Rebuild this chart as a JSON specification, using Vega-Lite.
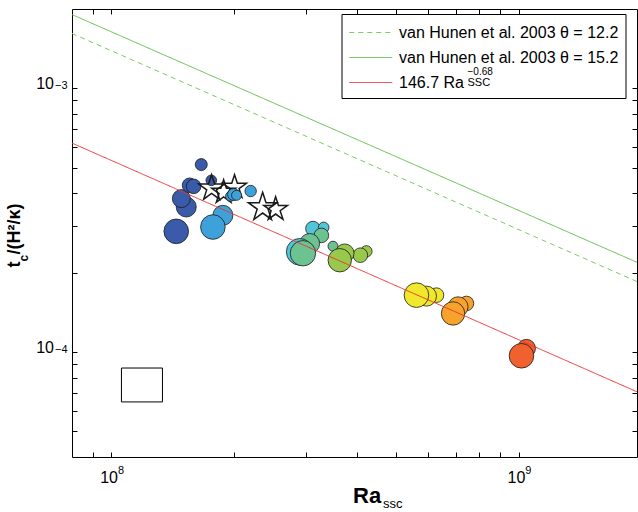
{
  "$schema": "https://vega.github.io/schema/vega-lite/v6.json",
  "width": 565,
  "height": 448,
  "autosize": {"type": "none"},
  "padding": {"left": 72, "top": 9, "right": 1, "bottom": 55},
  "background": "white",
  "config": {
    "font": "Liberation Sans",
    "view": {"stroke": null},
    "axis": {"grid": false, "domainColor": "#000", "tickColor": "#000", "labelColor": "#000", "titleColor": "#000", "labelFont": "Liberation Sans", "titleFont": "Liberation Sans", "labelFontSize": 16, "labelOverlap": false, "labelFlush": false, "labelBound": false, "domainWidth": 1, "tickWidth": 1},
    "legend": {"strokeColor": null, "labelColor": "#000", "labelFont": "Liberation Sans"}
  },
  "datasets": {
    "pts": [
      {"grp": "db", "Ra": 144200000, "t": 0.000287, "d": 24.6},
      {"grp": "db", "Ra": 152600000, "t": 0.000355, "d": 20},
      {"grp": "db", "Ra": 148400000, "t": 0.000382, "d": 18},
      {"grp": "db", "Ra": 155500000, "t": 0.000429, "d": 14.6},
      {"grp": "db", "Ra": 159100000, "t": 0.000425, "d": 14.6},
      {"grp": "db", "Ra": 166100000, "t": 0.000514, "d": 12},
      {"grp": "db", "Ra": 175800000, "t": 0.000448, "d": 10.6},
      {"grp": "star", "Ra": 176100000, "t": 0.000418, "d": 27},
      {"grp": "star", "Ra": 188500000, "t": 0.000404, "d": 25},
      {"grp": "star", "Ra": 200500000, "t": 0.000422, "d": 25},
      {"grp": "star", "Ra": 235000000, "t": 0.000354, "d": 30},
      {"grp": "star", "Ra": 252900000, "t": 0.000348, "d": 25},
      {"grp": "lb", "Ra": 187700000, "t": 0.00033, "d": 20},
      {"grp": "lb", "Ra": 177400000, "t": 0.000298, "d": 24.6},
      {"grp": "lb", "Ra": 219600000, "t": 0.000408, "d": 11.4},
      {"grp": "lb", "Ra": 196000000, "t": 0.00039, "d": 10},
      {"grp": "lb", "Ra": 199400000, "t": 0.000396, "d": 12},
      {"grp": "lb", "Ra": 202800000, "t": 0.000393, "d": 10},
      {"grp": "cy", "Ra": 312300000, "t": 0.000294, "d": 14.6},
      {"grp": "cy", "Ra": 331800000, "t": 0.000297, "d": 10.6},
      {"grp": "tl", "Ra": 327500000, "t": 0.000277, "d": 14.6},
      {"grp": "tl", "Ra": 306500000, "t": 0.000258, "d": 20},
      {"grp": "cy", "Ra": 289700000, "t": 0.00024, "d": 26.6},
      {"grp": "tl", "Ra": 295100000, "t": 0.000237, "d": 25.4},
      {"grp": "tl", "Ra": 349800000, "t": 0.000252, "d": 10},
      {"grp": "gr", "Ra": 422400000, "t": 0.000241, "d": 11.4},
      {"grp": "gr", "Ra": 408300000, "t": 0.000233, "d": 14.6},
      {"grp": "gr", "Ra": 373800000, "t": 0.000237, "d": 18.6},
      {"grp": "gr", "Ra": 363400000, "t": 0.000223, "d": 23.4},
      {"grp": "ye", "Ra": 627800000, "t": 0.0001644, "d": 14.6},
      {"grp": "ye", "Ra": 593300000, "t": 0.000163, "d": 20},
      {"grp": "ye", "Ra": 560600000, "t": 0.0001644, "d": 24.6},
      {"grp": "or", "Ra": 743600000, "t": 0.0001529, "d": 14.6},
      {"grp": "or", "Ra": 709200000, "t": 0.0001485, "d": 20},
      {"grp": "or", "Ra": 689400000, "t": 0.0001401, "d": 23.4},
      {"grp": "ro", "Ra": 1044000000, "t": 0.0001033, "d": 18},
      {"grp": "ro", "Ra": 1015000000, "t": 0.0000968, "d": 24.6}
    ],
    "box": [
      {"x1": 105800000, "x2": 133400000, "y1": 0.0000647, "y2": 0.000087}
    ],
    "lines": [
      {"series": "van Hunen et al. 2003 θ = 12.2", "Ra": 80000000, "t": 0.001615, "sup": "", "sub": ""},
      {"series": "van Hunen et al. 2003 θ = 12.2", "Ra": 1950000000, "t": 0.0001851, "sup": "", "sub": ""},
      {"series": "van Hunen et al. 2003 θ = 15.2", "Ra": 80000000, "t": 0.001905, "sup": "", "sub": ""},
      {"series": "van Hunen et al. 2003 θ = 15.2", "Ra": 1950000000, "t": 0.000219, "sup": "", "sub": ""},
      {"series": "146.7 Ra", "Ra": 80000000, "t": 0.00062, "sup": "−0.68", "sub": "SSC"},
      {"series": "146.7 Ra", "Ra": 1950000000, "t": 0.0000707, "sup": "−0.68", "sub": "SSC"}
    ]
  },
  "layer": [
    {
      "data": {"name": "pts"},
      "mark": {"type": "point", "filled": true, "opacity": 1, "stroke": "#1a1a1a"},
      "encoding": {
        "x": {"field": "Ra", "type": "quantitative", "scale": {"type": "log", "domain": [80000000, 1950000000], "nice": false}, "axis": null},
        "y": {"field": "t", "type": "quantitative", "scale": {"type": "log", "domain": [0.00004, 0.002], "nice": false},
              "axis": {"orient": "left", "labels": false, "ticks": false, "domain": false, "title": "/(H²/κ)", "titleX": -52.5, "titleY": 245, "titleAlign": "left", "titleBaseline": "alphabetic", "titleAngle": 270, "titleFontSize": 18, "titleFontWeight": "bold"}},
        "fill": {"field": "grp", "type": "nominal", "scale": {"domain": ["db", "lb", "cy", "tl", "gr", "ye", "or", "ro", "star"], "range": ["#3a5ba9", "#3ea1da", "#52c5d8", "#6dc291", "#99c94c", "#efe82c", "#f7a22b", "#f0612f", "transparent"]}, "legend": null},
        "size": {"field": "d", "type": "quantitative", "scale": {"type": "pow", "exponent": 2, "domain": [0, 25], "range": [0, 625]}, "legend": null},
        "shape": {"condition": {"test": "datum.grp === 'star'", "value": "M0,-1L0.225,-0.309L0.951,-0.309L0.363,0.118L0.588,0.809L0,0.382L-0.588,0.809L-0.363,0.118L-0.951,-0.309L-0.225,-0.309Z"}, "value": "circle"},
        "strokeWidth": {"condition": {"test": "datum.grp === 'star'", "value": 1.5}, "value": 0.8}
      }
    },
    {
      "data": {"name": "box"},
      "mark": {"type": "rect", "fill": "transparent", "stroke": "#000", "strokeWidth": 1},
      "encoding": {
        "x": {"field": "x1", "type": "quantitative", "scale": {"type": "log", "domain": [80000000, 1950000000], "nice": false},
              "axis": {"orient": "bottom", "values": [100000000, 1000000000], "labelExpr": "datum.value < 500000000 ? '8' : '9'", "labelAlign": "left", "labelBaseline": "alphabetic", "labelOffset": 6, "labelPadding": 16, "labelFontSize": 11, "ticks": false, "domain": false, "title": "ssc", "titleX": 310.5, "titleY": 50, "titleAlign": "left", "titleBaseline": "alphabetic", "titleFontSize": 13, "titleFontWeight": "normal"}},
        "x2": {"field": "x2"},
        "y": {"field": "y1", "type": "quantitative", "scale": {"type": "log", "domain": [0.00004, 0.002], "nice": false},
              "axis": {"orient": "left", "values": [0.0001, 0.001], "labelExpr": "datum.value < 0.0005 ? '−4' : '−3'", "labelAlign": "left", "labelBaseline": "alphabetic", "labelPadding": 17.5, "labelDy": -1, "labelFontSize": 11, "ticks": false, "domain": false, "title": "c", "titleX": -44.5, "titleY": 252, "titleAlign": "left", "titleBaseline": "alphabetic", "titleAngle": 270, "titleFontSize": 12, "titleFontWeight": "bold"}},
        "y2": {"field": "y2"}
      }
    },
    {
      "data": {"name": "lines"},
      "transform": [{"filter": "datum.series !== '146.7 Ra'"}],
      "mark": {"type": "line", "strokeWidth": 1, "clip": true},
      "encoding": {
        "x": {"field": "Ra", "type": "quantitative", "scale": {"type": "log", "domain": [80000000, 1950000000], "nice": false},
              "axis": {"orient": "bottom", "values": [90000000, 100000000, 200000000, 300000000, 400000000, 500000000, 600000000, 700000000, 800000000, 900000000, 1000000000], "labelExpr": "(datum.value == 100000000 || datum.value == 1000000000) ? '10' : ''", "labelAlign": "right", "labelBaseline": "alphabetic", "labelOffset": 6, "labelPadding": 30, "tickSize": -5, "title": "Ra", "titleX": 280.5, "titleY": 45, "titleAlign": "left", "titleBaseline": "alphabetic", "titleFontSize": 22, "titleFontWeight": "bold"}},
        "y": {"field": "t", "type": "quantitative", "scale": {"type": "log", "domain": [0.00004, 0.002], "nice": false},
              "axis": {"orient": "left", "values": [0.00005, 0.00006, 0.00007, 0.00008, 0.00009, 0.0001, 0.0002, 0.0003, 0.0004, 0.0005, 0.0006, 0.0007, 0.0008, 0.0009, 0.001], "labelExpr": "(datum.value == 0.001 || datum.value == 0.0001) ? '10' : ''", "labelAlign": "right", "labelBaseline": "alphabetic", "labelDy": 6, "labelPadding": 23.5, "tickSize": -5, "title": "t", "titleX": -52.5, "titleY": 258, "titleAlign": "left", "titleBaseline": "alphabetic", "titleAngle": 270, "titleFontSize": 18, "titleFontWeight": "bold"}},
        "color": {"field": "series", "type": "nominal", "scale": {"domain": ["van Hunen et al. 2003 θ = 12.2", "van Hunen et al. 2003 θ = 15.2", "146.7 Ra"], "range": ["#7ccc66", "#62bd4a", "#ee3333"]},
                  "legend": {"orient": "none", "legendX": 269.5, "legendY": 5, "title": null, "padding": 7, "strokeColor": "#000", "fillColor": "#fff", "symbolType": "M-1,0L3,0", "symbolSize": 462, "symbolStrokeWidth": 1, "labelOffset": 27.5, "labelFontSize": 16, "rowPadding": 5, "labelLimit": 400}},
        "strokeDash": {"field": "series", "type": "nominal", "scale": {"domain": ["van Hunen et al. 2003 θ = 12.2", "van Hunen et al. 2003 θ = 15.2", "146.7 Ra"], "range": [[5, 4], [1, 0], [1, 0]]},
                  "legend": {"orient": "none", "legendX": 269.5, "legendY": 5, "title": null, "padding": 7, "strokeColor": "#000", "fillColor": "#fff", "symbolType": "M-1,0L3,0", "symbolSize": 462, "symbolStrokeWidth": 1, "labelOffset": 27.5, "labelFontSize": 16, "rowPadding": 5, "labelLimit": 400}}
      }
    },
    {
      "data": {"name": "lines"},
      "transform": [{"filter": "datum.series === '146.7 Ra'"}],
      "mark": {"type": "line", "clip": true},
      "encoding": {
        "x": {"field": "Ra", "type": "quantitative", "scale": {"type": "log", "domain": [80000000, 1950000000], "nice": false},
              "axis": {"orient": "top", "values": [90000000, 100000000, 200000000, 300000000, 400000000, 500000000, 600000000, 700000000, 800000000, 900000000, 1000000000], "labels": false, "tickSize": -5, "title": null}},
        "y": {"field": "t", "type": "quantitative", "scale": {"type": "log", "domain": [0.00004, 0.002], "nice": false},
              "axis": {"orient": "right", "values": [0.00005, 0.00006, 0.00007, 0.00008, 0.00009, 0.0001, 0.0002, 0.0003, 0.0004, 0.0005, 0.0006, 0.0007, 0.0008, 0.0009, 0.001], "labels": false, "tickSize": -5, "title": null}},
        "color": {"field": "series", "type": "nominal", "scale": {"domain": ["van Hunen et al. 2003 θ = 12.2", "van Hunen et al. 2003 θ = 15.2", "146.7 Ra"], "range": ["#7ccc66", "#62bd4a", "#ee3333"]},
                  "legend": {"orient": "none", "legendX": 269.5, "legendY": 5, "title": null, "padding": 7, "strokeColor": "#000", "fillColor": "#fff", "symbolType": "M-1,0L3,0", "symbolSize": 462, "symbolStrokeWidth": 1, "labelOffset": 27.5, "labelFontSize": 16, "rowPadding": 5, "labelLimit": 400}},
        "strokeDash": {"field": "series", "type": "nominal", "scale": {"domain": ["van Hunen et al. 2003 θ = 12.2", "van Hunen et al. 2003 θ = 15.2", "146.7 Ra"], "range": [[5, 4], [1, 0], [1, 0]]},
                  "legend": {"orient": "none", "legendX": 269.5, "legendY": 5, "title": null, "padding": 7, "strokeColor": "#000", "fillColor": "#fff", "symbolType": "M-1,0L3,0", "symbolSize": 462, "symbolStrokeWidth": 1, "labelOffset": 27.5, "labelFontSize": 16, "rowPadding": 5, "labelLimit": 400}},
        "opacity": {"field": "sup", "type": "ordinal", "scale": {"range": [1, 1]},
                    "legend": {"orient": "none", "legendX": 385.5, "legendY": 57.5, "title": null, "padding": 0, "symbolSize": 0, "symbolOpacity": 0, "symbolStrokeWidth": 0, "labelOffset": 0, "labelFontSize": 10}},
        "strokeWidth": {"field": "sub", "type": "ordinal", "scale": {"range": [1, 1]},
                    "legend": {"orient": "none", "legendX": 384.5, "legendY": 68, "title": null, "padding": 0, "symbolSize": 0, "symbolOpacity": 0, "symbolStrokeWidth": 0, "labelOffset": 0, "labelFontSize": 11}}
      }
    }
  ],
  "resolve": {"axis": {"x": "independent", "y": "independent"}}
}
